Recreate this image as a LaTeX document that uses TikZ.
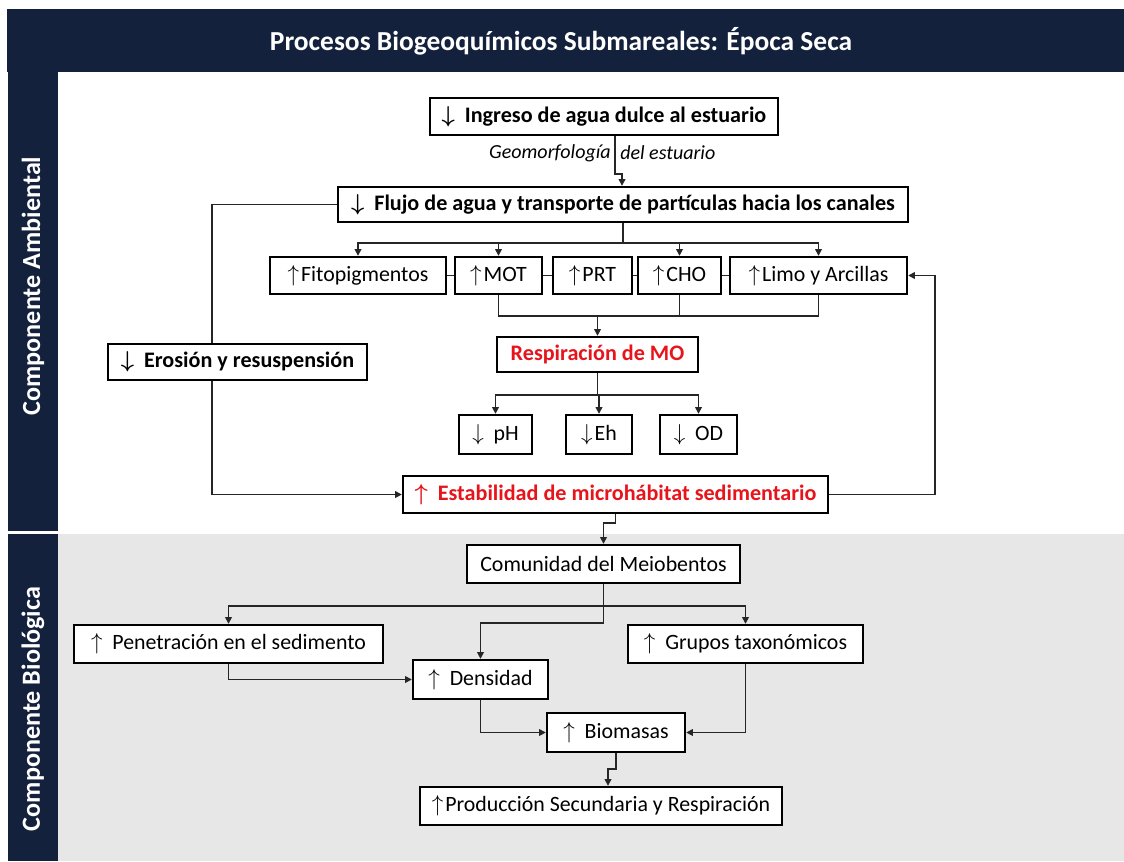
\documentclass[tikz,border=0pt]{standalone}
\usepackage{fontspec}
\setmainfont{Carlito}
\usetikzlibrary{arrows.meta,calc}
\definecolor{navy}{HTML}{14213D}
\definecolor{bgray}{HTML}{E7E7E7}
\definecolor{redt}{HTML}{E8141B}
\newcommand\ua{\ensuremath{\uparrow}\kern1.5pt}
\newcommand\da{\ensuremath{\downarrow}\kern1.5pt}
\newcommand\uas{\ensuremath{\uparrow}\hspace{0.45em}}
\newcommand\das{\ensuremath{\downarrow}\hspace{0.45em}}
\pgfdeclarelayer{back}
\pgfdeclarelayer{lines}
\pgfsetlayers{back,lines,main}
\begin{document}
\begin{tikzpicture}[x=0.75pt,y=-0.75pt,
 bx/.style={draw=black,line width=1.8pt,fill=white,inner sep=0pt,align=center},
 sz/.style 2 args={minimum width=#1*0.75pt,minimum height=#2*0.75pt},
 bfs/.style={font=\fontsize{16.6}{19}\selectfont\bfseries\boldmath},
 rfs/.style={font=\fontsize{16.4}{19}\selectfont},
 ln/.style={line width=1.1pt,draw=black!85},
 ar/.style={ln,-{Triangle[length=5pt,width=5pt]}},
 side/.style={rotate=90,text=white,font=\fontsize{19.6}{22}\selectfont\bfseries},
 lab/.style={font=\fontsize{15}{17}\selectfont\itshape,inner sep=0pt}
]
\useasboundingbox (0,0) rectangle (1124,861);
\begin{pgfonlayer}{back}
\fill[white] (0,0) rectangle (1124,861);
\fill[bgray] (58,534) rectangle (1124,861);
\fill[navy] (7,9) rectangle (1124,72);
\fill[navy] (8,72) rectangle (58,531);
\fill[navy] (8,534) rectangle (58,861);
\end{pgfonlayer}

\node[text=white,font=\fontsize{20.6}{24}\selectfont\bfseries] (title) at (561,41) {Procesos Biogeoquímicos Submareales: Época Seca};
\node[side] (amb) at (33,286) {Componente Ambiental};
\node[side] (biol) at (33,709) {Componente Biológica};

% top component
\node[bx,sz={348}{37},bfs] (ing) at (604,116.5) {\das Ingreso de agua dulce al estuario};
\node[bx,sz={570}{35},bfs] (flujo) at (623,204.5) {\das Flujo de agua y transporte de partículas hacia los canales};
\node[bx,sz={176}{37},rfs] (fito) at (358,275.5) {\ua Fitopigmentos};
\node[bx,sz={87}{37},rfs] (mot) at (498.5,275.5) {\ua MOT};
\node[bx,sz={79}{37},rfs] (prt) at (592.5,275.5) {\ua PRT};
\node[bx,sz={83}{37},rfs] (cho) at (679.5,275.5) {\ua CHO};
\node[bx,sz={177}{37},rfs] (limo) at (818.5,275.5) {\ua Limo y Arcillas};
\node[bx,sz={259}{36},bfs] (eros) at (237.5,362) {\das Erosión y resuspensión};
\node[bx,sz={201}{35},bfs,text=redt] (resp) at (597.5,354.5) {Respiración de MO};
\node[bx,sz={73}{39},rfs] (ph) at (495.5,434.5) {\das pH};
\node[bx,sz={66}{39},rfs] (eh) at (599,434.5) {\da Eh};
\node[bx,sz={77}{39},rfs] (od) at (698.5,434.5) {\das OD};
\node[bx,sz={425}{37},bfs,text=redt] (estab) at (615.5,494.5) {\uas Estabilidad de microhábitat sedimentario};

\node[lab,anchor=east] (geo) at (611,153) {Geomorfología};
\node[lab,anchor=west] (dest) at (620,153) {del estuario};

% bottom component
\node[bx,sz={273}{38},rfs] (com) at (603.5,564) {Comunidad del Meiobentos};
\node[bx,sz={309}{38},rfs] (pen) at (228.5,644) {\uas Penetración en el sedimento};
\node[bx,sz={235}{38},rfs] (gru) at (745.5,644) {\uas Grupos taxonómicos};
\node[bx,sz={135}{39},rfs] (den) at (480.5,679.5) {\uas Densidad};
\node[bx,sz={138}{39},rfs] (bio) at (616,732.5) {\uas Biomasas};
\node[bx,sz={362}{38},rfs] (prod) at (601,806) {\ua Producción Secundaria y Respiración};

\begin{pgfonlayer}{lines}
\draw[ar] ($(ing.south)+(11,0)$) -- ++(0,38) -| ($(flujo.north)+(-1,0)$);
\coordinate (b1) at ($(flujo.south)+(0,20)$);
\draw[ln] (flujo.south) -- (b1);
\draw[ar] (b1) -| (fito.north);
\draw[ar] (b1) -| (limo.north);
\draw[ar] (b1 -| mot.north) -- (mot.north);
\draw[ar] (b1 -| cho.north) -- (cho.north);
\draw[ln] (fito.east) -- (mot.west);
\draw[ln] (mot.east) -- (prt.west);
\draw[ln] (prt.east) -- (cho.west);
\draw[ln] (cho.east) -- (limo.west);
\coordinate (b2) at (resp.north |- 0,316);
\draw[ln] (mot.south) -- (mot.south |- b2) -- (limo.south |- b2) -- (limo.south);
\draw[ln] (cho.south) -- (cho.south |- b2);
\draw[ar] (b2) -- (resp.north);
\coordinate (b3) at ($(resp.south)+(0,22)$);
\draw[ln] (resp.south) -- (b3);
\draw[ar] (b3) -| (ph.north);
\draw[ar] (b3) -| (od.north);
\draw[ar] (b3 -| eh.north) -- (eh.north);
\coordinate (lx) at (212,0);
\draw[ar] (flujo.west) -| (lx |- estab.west) -- (estab.west);
\coordinate (rx) at (935,0);
\draw[ar] (estab.east) -- (rx |- estab.east) -- (rx |- limo.east) -- (limo.east);
\draw[ar] (estab.south) -- ++(0,9) -| (com.north);
\coordinate (b4) at ($(com.south)+(0,22)$);
\draw[ln] (com.south) -- (b4);
\draw[ar] (b4) -| (pen.north);
\draw[ar] (b4) -| (gru.north);
\draw[ar] (b4) -- ++(0,17) -| (den.north);
\draw[ar] (pen.south) |- (den.west);
\draw[ar] (den.south) |- (bio.west);
\draw[ar] (gru.south) |- (bio.east);
\draw[ar] (bio.south) -- ++(0,16) -| ($(prod.north)+(7,0)$);
\end{pgfonlayer}
\end{tikzpicture}
\end{document}
